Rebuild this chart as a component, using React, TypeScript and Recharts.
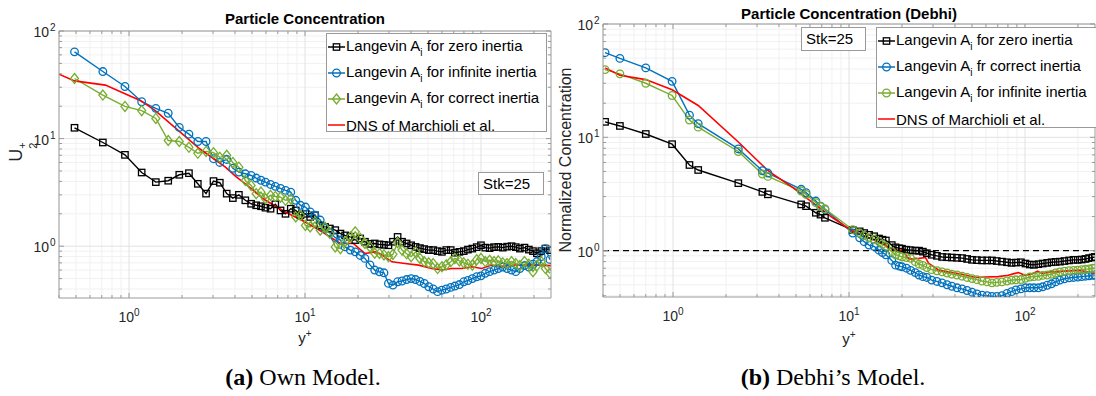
import React from 'react';
import { LineChart, Line, XAxis, YAxis, CartesianGrid, ReferenceLine } from 'recharts';

// ---------- (a) own model ----------
const yPlusOwn = [
  0.49, 0.71, 0.948, 1.18, 1.42, 1.67, 1.93, 2.19, 2.46, 2.74, 3.02, 3.28, 3.59, 3.89,
  4.21, 4.58, 4.94, 5.28, 5.62, 5.96, 6.37, 6.78, 7.26, 7.75, 8.3, 8.86, 9.42, 10.06, 10.7, 11.4, 12.2, 13.0,
  13.85, 14.86, 15.9, 16.9, 18.1, 19.3, 20.6, 21.9, 23.4, 24.9, 26.5, 28.1,
  29.8, 31.6, 33.6, 35.6, 37.8, 40.1, 42.5, 45.0, 47.6, 50.5, 53.5, 56.7, 60.0, 63.5, 67.3, 71.1, 75.4, 79.8, 84.3, 89.3,
  94.6, 100, 105.8, 112, 118.7, 125.4, 133, 140.7, 149.2, 157.7, 166.3, 176.7, 187.1, 197.5, 207.9, 220.1, 232.4, 246.6,
];
const zeroOwn = [
  12.6, 9.2, 7.06, 4.84, 3.94, 4.06, 4.61, 4.77, 3.8, 3.08, 4.03, 3.89, 3.08, 2.8,
  3.0, 2.67, 2.48, 2.4, 2.35, 2.28, 2.23, 2.45, 2.15, 2.0, 2.23, 2.15, 1.94, 2.0, 1.87, 1.94, 1.56, 1.51,
  1.46, 1.41, 1.31, 1.26, 1.22, 1.14, 1.18, 1.1, 1.05, 1.06, 1.04, 1.03,
  1.02, 1.1, 1.22, 1.1, 1.06, 1.02, 0.985, 0.96, 0.94, 0.92, 0.92, 0.9, 0.886, 0.92, 0.92, 0.87, 0.886, 0.9, 0.93, 0.95,
  0.98, 1.02, 0.97, 0.96, 0.98, 0.985, 0.97, 0.99, 1.0, 0.98, 0.95, 0.97, 0.93, 0.9, 0.86, 0.9, 0.95, 0.92,
];
const infiniteOwn = [
  64, 42, 30.5, 22, 19.1, 17.2, 12.7, 11.0, 9.4, 9.4, 6.5, 6.0, 6.4, 5.3,
  4.88, 4.71, 4.54, 4.3, 4.1, 3.94, 3.75, 3.6, 3.45, 3.3, 3.18, 2.67, 2.4, 2.31, 2.08, 1.94, 1.75, 1.46,
  1.35, 1.2, 1.14, 0.985, 0.92, 0.886, 0.82, 0.77, 0.67, 0.6, 0.578, 0.566,
  0.451, 0.435, 0.467, 0.475, 0.49, 0.5, 0.49, 0.47, 0.45, 0.42, 0.4, 0.378, 0.39, 0.4, 0.414, 0.426, 0.44, 0.467, 0.48, 0.5,
  0.52, 0.53, 0.56, 0.58, 0.6, 0.62, 0.64, 0.62, 0.6, 0.58, 0.62, 0.66, 0.64, 0.68, 0.72, 0.8, 0.95, 0.75,
];
const correctOwn = [
  36.2, 25.4, 19.9, 18.2, 15.4, 9.6, 9.4, 8.3, 7.3, 7.6, 7.4, 6.7, 7.0, 6.0,
  5.42, 4.08, 3.67, 3.08, 3.18, 2.76, 2.97, 2.9, 2.86, 2.67, 2.75, 1.87, 1.94, 1.56, 1.51, 1.68, 1.41, 1.5,
  1.31, 0.985, 0.95, 1.1, 1.22, 1.36, 1.18, 1.06, 0.985, 0.86, 0.856, 0.83,
  0.8, 0.84, 1.08, 0.92, 0.85, 0.8, 0.886, 0.77, 0.72, 0.7, 0.69, 0.62, 0.644, 0.67, 0.716, 0.77, 0.73, 0.7, 0.68, 0.667,
  0.75, 0.77, 0.72, 0.74, 0.72, 0.73, 0.7, 0.69, 0.72, 0.69, 0.66, 0.72, 0.68, 0.58, 0.66, 0.72, 0.62, 0.56,
];
const dnsOwnX = [
  0.4, 0.49, 0.734, 1.165, 1.41, 2.53, 3.53, 4.07, 4.58, 5.96, 7.73, 10.04, 12.5, 15.9, 18.8, 21.9,
  25.1, 26.2, 31.2, 37.0, 44.2, 52.5, 59.9, 68.2, 77.8, 88.6, 101, 115, 131, 156, 194, 250,
];
const dnsOwnY = [
  39.7, 34.4, 31.4, 22.5, 18.2, 8.0, 5.42, 4.4, 3.8, 2.67, 2.08, 1.68, 1.36, 1.06, 1.06, 0.856,
  0.886, 0.867, 0.716, 0.69, 0.667, 0.62, 0.6, 0.62, 0.62, 0.644, 0.62, 0.667, 0.65, 0.667, 0.67, 0.66,
];

// ---------- (b) Debhi's model ----------
const yPlusDebhi = [
  0.411, 0.499, 0.7, 0.988, 1.24, 1.39, 2.35, 3.22, 3.46,
  5.35, 5.7, 6.48, 6.89, 7.3,
  10.5, 11.5, 12.2, 13.0, 13.9, 14.8, 15.5, 16.2, 17.5, 18.4, 19.3, 20.0, 21.2, 22.4, 23.8, 25.0, 26.3, 27.7,
  29.5, 31.6, 33.8, 36.1, 38.4, 41.1, 43.9, 46.9, 50.0, 53.3, 57.0, 61.0, 64.9, 69.1, 74.0, 79.0, 83.9, 88.9,
  94.8, 100.6, 106.5, 112.4, 119.2, 126.1, 133.8, 141.5, 149.3, 158, 167.6, 178.1, 188.7, 199.4, 210, 220.8, 231.5, 242.3, 249.5,
];
const zeroDebhi = [
  13.7, 12.6, 10.7, 8.7, 5.7, 5.15, 3.94, 3.3, 3.14,
  2.56, 2.47, 2.16, 2.08, 1.95,
  1.52, 1.48, 1.43, 1.38, 1.34, 1.28, 1.25, 1.23, 1.12, 1.07, 1.05, 1.04, 1.02, 1.01, 1.0, 1.0, 0.98, 0.95,
  0.92, 0.9, 0.88, 0.875, 0.87, 0.865, 0.86, 0.845, 0.83, 0.825, 0.82, 0.82, 0.82, 0.81, 0.8, 0.79, 0.78, 0.785,
  0.79, 0.77, 0.755, 0.75, 0.76, 0.77, 0.78, 0.79, 0.795, 0.8, 0.81, 0.82, 0.83, 0.83, 0.835, 0.845, 0.86, 0.87, 0.88,
];
const correctDebhi = [
  55.9, 49.7, 41, 31.2, 15.7, 13.2, 7.9, 5.07, 4.84,
  3.48, 3.25, 2.74, 2.47, 2.31,
  1.43, 1.3, 1.2, 1.12, 1.09, 1.01, 0.96, 0.92, 0.82, 0.745, 0.73, 0.72, 0.7, 0.67, 0.64, 0.61, 0.59, 0.58,
  0.55, 0.535, 0.52, 0.5, 0.485, 0.47, 0.46, 0.445, 0.43, 0.415, 0.405, 0.4, 0.395, 0.395, 0.4, 0.42, 0.435, 0.45,
  0.46, 0.47, 0.47, 0.47, 0.47, 0.48, 0.495, 0.51, 0.53, 0.55, 0.565, 0.575, 0.58, 0.585, 0.59, 0.595, 0.6, 0.605, 0.61,
];
const infiniteDebhi = [
  39.6, 36.3, 30, 23.4, 14.2, 12.3, 7.5, 4.74, 4.52,
  3.36, 3.14, 2.65, 2.45, 2.34,
  1.53, 1.43, 1.36, 1.3, 1.26, 1.2, 1.14, 1.09, 0.98, 0.92, 0.9, 0.88, 0.87, 0.855, 0.8, 0.76, 0.74, 0.71,
  0.68, 0.665, 0.65, 0.635, 0.62, 0.61, 0.595, 0.58, 0.567, 0.555, 0.54, 0.53, 0.52, 0.525, 0.53, 0.54, 0.55, 0.553,
  0.556, 0.57, 0.585, 0.59, 0.594, 0.605, 0.61, 0.62, 0.635, 0.65, 0.66, 0.665, 0.67, 0.673, 0.68, 0.685, 0.69, 0.7, 0.7,
];
const dnsDebhiX = [
  0.411, 0.499, 0.7, 0.988, 1.39, 2.35, 3.1, 3.46, 3.7, 4.8, 6.21, 8.08, 10.5, 13.0, 15.5, 17.2, 18.4, 20.0,
  22.0, 25.0, 27.2, 28.4, 32.4, 36.9, 43.9, 52.2, 59.6, 70.6, 80.3, 87.8, 91.8, 100, 109, 117.8, 124.9, 141.5,
  168.5, 200.4, 227.9, 250,
];
const dnsDebhiY = [
  41, 35.3, 32.3, 26.3, 19.1, 9.1, 6.0, 5.1, 4.74, 3.6, 2.65, 1.95, 1.48, 1.29, 1.16, 1.05, 1.01, 1.01,
  0.84, 0.855, 0.87, 0.77, 0.673, 0.65, 0.62, 0.58, 0.586, 0.59, 0.606, 0.63, 0.64, 0.606, 0.62, 0.66, 0.63, 0.65,
  0.66, 0.67, 0.65, 0.63,
];

// ---------- axes ----------
const xTicks = [0.4, 0.5, 0.6, 0.7, 0.8, 0.9, 1, 2, 3, 4, 5, 6, 7, 8, 9, 10, 20, 30, 40, 50, 60, 70, 80, 90, 100, 200];
const yTicks = [0.4, 0.5, 0.6, 0.7, 0.8, 0.9, 1, 2, 3, 4, 5, 6, 7, 8, 9, 10, 20, 30, 40, 50, 60, 70, 80, 90, 100];
const decades = [1, 10, 100];
const xDomain: [number, number] = [0.4, 250];

const BLACK = '#000000';
const BLUE = '#0072BD';
const GREEN = '#77AC30';
const RED = '#FF0000';
const AXIS = '#9a9a9a';
const TEXT = '#262626';

const toPoints = (xs: number[], ys: number[]) => xs.map((x, i) => ({ x, y: ys[i] }));

type Marker = 'square' | 'circle' | 'diamond';

const drawMarker = (kind: Marker, cx: number, cy: number, color: string, key?: any) => {
  if (kind === 'square')
    return <rect key={key} x={cx - 3.2} y={cy - 3.2} width={6.4} height={6.4} fill="none" stroke={color} strokeWidth={1.3} />;
  if (kind === 'circle')
    return <circle key={key} cx={cx} cy={cy} r={3.8} fill="none" stroke={color} strokeWidth={1.3} />;
  return (
    <polygon key={key} points={`${cx},${cy - 5} ${cx + 4},${cy} ${cx},${cy + 5} ${cx - 4},${cy}`}
      fill="none" stroke={color} strokeWidth={1.3} />
  );
};

const dotFor = (kind: Marker, color: string) => (p: any) => {
  if (p.cx == null || p.cy == null) return <g key={p.index} />;
  return drawMarker(kind, p.cx, p.cy, color, p.index);
};

const isDecade = (v: number) => decades.some((d) => Math.abs(d - v) < 1e-9);

const BottomTick = (p: any) => {
  const v = p.payload.value;
  const major = isDecade(v);
  return (
    <g>
      <line x1={p.x} y1={p.y} x2={p.x} y2={p.y - (major ? 5 : 3)} stroke={AXIS} />
      {major && (
        <text x={p.x} y={p.y + 24} textAnchor="middle" fontSize={14} fill={TEXT}>
          10<tspan dy={-6} fontSize={10}>{Math.round(Math.log10(v))}</tspan>
        </text>
      )}
    </g>
  );
};
const TopTick = (p: any) => (
  <line x1={p.x} y1={p.y} x2={p.x} y2={p.y + (isDecade(p.payload.value) ? 5 : 3)} stroke={AXIS} />
);
const LeftTick = (p: any) => {
  const v = p.payload.value;
  const major = isDecade(v);
  return (
    <g>
      <line x1={p.x} y1={p.y} x2={p.x + (major ? 5 : 3)} y2={p.y} stroke={AXIS} />
      {major && (
        <text x={p.x - 10} y={p.y + 6} textAnchor="end" fontSize={14} fill={TEXT}>
          10
        </text>
      )}
      {major && (
        <text x={p.x - 9} y={p.y} textAnchor="start" fontSize={10} fill={TEXT}>
          {Math.round(Math.log10(v))}
        </text>
      )}
    </g>
  );
};
const RightTick = (p: any) => (
  <line x1={p.x} y1={p.y} x2={p.x - (isDecade(p.payload.value) ? 5 : 3)} y2={p.y} stroke={AXIS} />
);

interface Series {
  name: string;
  xs: number[];
  ys: number[];
  color: string;
  marker?: Marker;
}

interface PanelProps {
  width: number;
  height: number;
  margin: { top: number; left: number; right: number; bottom: number };
  yAxisWidth: number;
  yDomain: [number, number];
  series: Series[];
  unity?: boolean;
}

const Panel: React.FC<PanelProps> = ({ width, height, margin, yAxisWidth, yDomain, series, unity }) => {
  const yIn = yTicks.filter((t) => t >= yDomain[0] && t <= yDomain[1]);
  return (
    <LineChart width={width} height={height} margin={margin}>
      <CartesianGrid
        horizontalValues={yIn.filter((t) => !isDecade(t))}
        verticalValues={xTicks.filter((t) => !isDecade(t))}
        stroke="#f1f1f1"
      />
      <CartesianGrid horizontalValues={decades} verticalValues={decades} stroke="#e2e2e2" />
      <XAxis dataKey="x" type="number" scale="log" domain={xDomain} allowDataOverflow ticks={xTicks}
        interval={0} height={40} tickSize={0} tickMargin={0} tickLine={false}
        axisLine={{ stroke: AXIS }} tick={BottomTick} />
      <XAxis xAxisId="top" orientation="top" dataKey="x" type="number" scale="log" domain={xDomain}
        allowDataOverflow ticks={xTicks} interval={0} height={1} tickSize={0} tickMargin={0}
        tickLine={false} axisLine={{ stroke: AXIS }} tick={TopTick} />
      <YAxis type="number" scale="log" domain={yDomain} allowDataOverflow ticks={yIn} interval={0}
        width={yAxisWidth} tickSize={0} tickMargin={0} tickLine={false} axisLine={{ stroke: AXIS }} tick={LeftTick} />
      <YAxis yAxisId="right" orientation="right" type="number" scale="log" domain={yDomain}
        allowDataOverflow ticks={yIn} interval={0} width={1} tickSize={0} tickMargin={0}
        tickLine={false} axisLine={{ stroke: AXIS }} tick={RightTick} />
      {unity && <ReferenceLine y={1} stroke="#000" strokeWidth={1.4} strokeDasharray="6 4" />}
      {series.map((s) => (
        <Line
          key={s.name}
          data={toPoints(s.xs, s.ys)}
          dataKey="y"
          type="linear"
          stroke={s.color}
          strokeWidth={s.marker ? 1.4 : 1.6}
          dot={s.marker ? dotFor(s.marker, s.color) : false}
          activeDot={false}
          isAnimationActive={false}
        />
      ))}
    </LineChart>
  );
};

interface LegendRow {
  pre: string;
  post: string;
  color: string;
  marker?: Marker;
}

const LegendBox: React.FC<{ left: number; top: number; width: number; height: number; rows: LegendRow[] }> = ({
  left, top, width, height, rows,
}) => (
  <div style={{
    position: 'absolute', left, top, width, height, background: '#fff', border: `1px solid ${AXIS}`,
    boxSizing: 'border-box', paddingTop: 0,
  }}>
    {rows.map((r, i) => (
      <div key={i} style={{ height: 26, display: 'flex', alignItems: 'center', whiteSpace: 'nowrap' }}>
        <svg width={19} height={14} style={{ flex: 'none' }}>
          <line x1={1} y1={7} x2={18} y2={7} stroke={r.color} strokeWidth={1.5} />
          {r.marker && drawMarker(r.marker, 9.5, 7, r.color)}
        </svg>
        <span style={{ fontSize: 15, color: '#000', marginLeft: 0 }}>
          {r.pre}
          {r.marker && <sub style={{ fontSize: 10, verticalAlign: -5 }}>i</sub>}
          {r.post}
        </span>
      </div>
    ))}
  </div>
);

const centered = (x: number, y: number, extra: React.CSSProperties = {}): React.CSSProperties => ({
  position: 'absolute', left: x, top: y, transform: 'translate(-50%, -50%)', whiteSpace: 'nowrap', ...extra,
});

const App: React.FC = () => {
  const ownSeries: Series[] = [
    { name: 'zero', xs: yPlusOwn, ys: zeroOwn, color: BLACK, marker: 'square' },
    { name: 'infinite', xs: yPlusOwn, ys: infiniteOwn, color: BLUE, marker: 'circle' },
    { name: 'correct', xs: yPlusOwn, ys: correctOwn, color: GREEN, marker: 'diamond' },
    { name: 'dns', xs: dnsOwnX, ys: dnsOwnY, color: RED },
  ];
  const debhiSeries: Series[] = [
    { name: 'zero', xs: yPlusDebhi, ys: zeroDebhi, color: BLACK, marker: 'square' },
    { name: 'correct', xs: yPlusDebhi, ys: correctDebhi, color: BLUE, marker: 'circle' },
    { name: 'infinite', xs: yPlusDebhi, ys: infiniteDebhi, color: GREEN, marker: 'circle' },
    { name: 'dns', xs: dnsDebhiX, ys: dnsDebhiY, color: RED },
  ];

  const serif = '"Liberation Serif", "DejaVu Serif", serif';

  return (
    <div style={{
      position: 'absolute', left: 0, top: 0, width: 1096, height: 396, background: '#fff', overflow: 'hidden',
      fontFamily: '"Liberation Sans", Arial, sans-serif', color: TEXT,
    }}>
      <div style={{ position: 'absolute', left: 0, top: 0 }}>
        <Panel width={556} height={396} margin={{ top: 30, left: 3, right: 4, bottom: 58 }} yAxisWidth={56}
          yDomain={[0.33, 100]} series={ownSeries} />
      </div>
      <div style={{ position: 'absolute', left: 556, top: 0 }}>
        <Panel width={540} height={396} margin={{ top: 23, left: 7, right: 0, bottom: 59 }} yAxisWidth={40}
          yDomain={[0.39, 100]} series={debhiSeries} unity />
      </div>

      {/* titles */}
      <div style={centered(305, 18, { fontSize: 15, fontWeight: 'bold', color: '#000' })}>Particle Concentration</div>
      <div style={centered(849, 13, { fontSize: 15, fontWeight: 'bold', color: '#000' })}>
        Particle Concentration (Debhi)
      </div>

      {/* axis labels */}
      <div style={centered(305, 337, { fontSize: 15 })}>
        y<sup style={{ fontSize: 10 }}>+</sup>
      </div>
      <div style={centered(849, 338, { fontSize: 15 })}>
        y<sup style={{ fontSize: 10 }}>+</sup>
      </div>
      <div style={centered(22, 152, { fontSize: 18, transform: 'translate(-50%, -50%) rotate(-90deg)' })}>
        <span>U</span>
        <span style={{ display: 'inline-flex', flexDirection: 'column', fontSize: 11, lineHeight: '11px', verticalAlign: -4 }}>
          <span>+</span>
          <span>2</span>
        </span>
      </div>
      <div style={centered(566, 160, { fontSize: 16, transform: 'translate(-50%, -50%) rotate(-90deg)' })}>
        Normalized Concentration
      </div>

      {/* legends */}
      <LegendBox left={326} top={33} width={221} height={99} rows={[
        { pre: 'Langevin A', post: ' for zero inertia', color: BLACK, marker: 'square' },
        { pre: 'Langevin A', post: ' for infinite inertia', color: BLUE, marker: 'circle' },
        { pre: 'Langevin A', post: ' for correct inertia', color: GREEN, marker: 'diamond' },
        { pre: 'DNS of Marchioli et al.', post: '', color: RED },
      ]} />
      <LegendBox left={876} top={27} width={223} height={101} rows={[
        { pre: 'Langevin A', post: ' for zero inertia', color: BLACK, marker: 'square' },
        { pre: 'Langevin A', post: ' fr correct inertia', color: BLUE, marker: 'circle' },
        { pre: 'Langevin A', post: ' for infinite inertia', color: GREEN, marker: 'circle' },
        { pre: 'DNS of Marchioli et al.', post: '', color: RED },
      ]} />

      {/* Stokes number boxes */}
      <div style={{
        position: 'absolute', left: 478, top: 172, width: 66, height: 23, border: `1px solid ${AXIS}`,
        background: '#fff', fontSize: 15, color: '#000', lineHeight: '21px', paddingLeft: 4, boxSizing: 'border-box',
      }}>Stk=25</div>
      <div style={{
        position: 'absolute', left: 801, top: 27, width: 65, height: 24, border: `1px solid ${AXIS}`,
        background: '#fff', fontSize: 15, color: '#000', lineHeight: '22px', paddingLeft: 4, boxSizing: 'border-box',
      }}>Stk=25</div>

      {/* captions */}
      <div style={centered(303, 377, { fontSize: 24, fontFamily: serif, color: '#000' })}>
        <b>(a)</b> Own Model.
      </div>
      <div style={centered(833, 377, { fontSize: 24, fontFamily: serif, color: '#000' })}>
        <b>(b)</b> Debhi’s Model.
      </div>
    </div>
  );
};

export default App;
